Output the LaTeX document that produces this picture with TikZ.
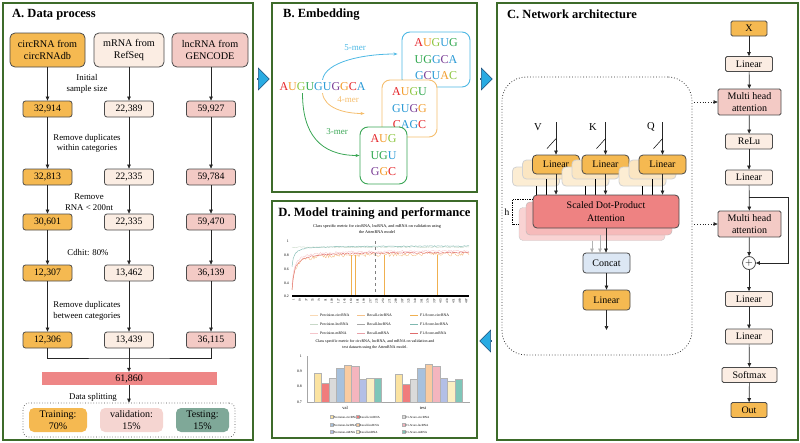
\documentclass[tikz,border=0pt]{standalone}
\usepackage{fontspec}
\setmainfont{Liberation Serif}
\usepackage{tikz}
\usetikzlibrary{arrows.meta, backgrounds, shapes.arrows}
\usepackage{xcolor}
\definecolor{panel_green}{HTML}{3D6B2A}
\definecolor{circ_orange}{HTML}{F5B951}
\definecolor{mrna_beige}{HTML}{FBEDE3}
\definecolor{lnc_pink}{HTML}{F3CAC5}
\definecolor{total_red}{HTML}{EE8686}
\definecolor{test_teal}{HTML}{7FA898}
\definecolor{att_red}{HTML}{EE8282}
\definecolor{concat_blue}{HTML}{DCE7F4}
\definecolor{edge_gray}{HTML}{4A4A4A}
\definecolor{arrow_fill}{HTML}{29ABE2}
\definecolor{arrow_edge}{HTML}{1F4E79}
\definecolor{nt_red}{HTML}{E5252A}
\definecolor{nt_orange}{HTML}{F39C2B}
\definecolor{nt_lime}{HTML}{8CC63F}
\definecolor{nt_green}{HTML}{2FA84F}
\definecolor{nt_blue}{HTML}{2A9AD6}
\definecolor{nt_purple}{HTML}{7A3E96}
\definecolor{kmer_blue}{HTML}{4DB8E4}
\definecolor{kmer_orange}{HTML}{F5BE6E}
\definecolor{kmer_green}{HTML}{3AA655}
\definecolor{lcPcircRNA}{HTML}{F9D9B5}
\definecolor{lcRcircRNA}{HTML}{F5C28A}
\definecolor{lcFcircRNA}{HTML}{F0B050}
\definecolor{lcPlncRNA}{HTML}{C8D8C8}
\definecolor{lcRlncRNA}{HTML}{A6A6A6}
\definecolor{lcFlncRNA}{HTML}{7FB8B0}
\definecolor{lcPmRNA}{HTML}{F5C6CB}
\definecolor{lcRmRNA}{HTML}{E8A0A8}
\definecolor{lcFmRNA}{HTML}{E06C6C}
\definecolor{bcPcircRNA}{HTML}{FBE3A1}
\definecolor{bcRcircRNA}{HTML}{F07C7C}
\definecolor{bcFcircRNA}{HTML}{DADADA}
\definecolor{bcPlncRNA}{HTML}{A7C1DD}
\definecolor{bcRlncRNA}{HTML}{F9CBA0}
\definecolor{bcFlncRNA}{HTML}{F4B5BE}
\definecolor{bcPmRNA}{HTML}{B3BFE6}
\definecolor{bcRmRNA}{HTML}{FCEFC3}
\definecolor{bcFmRNA}{HTML}{7FC6B9}
\newcommand{\ntR}[1]{\textcolor{nt_red}{#1}}
\newcommand{\ntO}[1]{\textcolor{nt_orange}{#1}}
\newcommand{\ntL}[1]{\textcolor{nt_lime}{#1}}
\newcommand{\ntG}[1]{\textcolor{nt_green}{#1}}
\newcommand{\ntB}[1]{\textcolor{nt_blue}{#1}}
\newcommand{\ntP}[1]{\textcolor{nt_purple}{#1}}

\begin{document}
\begin{tikzpicture}[
    x=1pt, y=-1pt,
    panel/.style={draw=panel_green, line width=1.2pt},
    ttl/.style={font=\fontsize{12.5}{14}\selectfont\bfseries, anchor=west, inner sep=0pt},
    flow/.style={-{Triangle[length=4pt,width=3.6pt]}, line width=0.7pt, draw=black!85},
    headbox/.style={draw=edge_gray, line width=0.8pt, rounded corners=5pt, minimum height=34pt, align=center, font=\fontsize{10.2}{12.5}\selectfont, inner sep=1pt},
    numbox/.style={draw=edge_gray, line width=0.8pt, rounded corners=2.5pt, minimum width=49pt, minimum height=16pt, font=\fontsize{9.8}{11}\selectfont, inner sep=0pt},
    steplbl/.style={align=center, font=\fontsize{8.8}{10.5}\selectfont, inner sep=0pt},
    splitbox/.style={rounded corners=5pt, minimum height=24pt, align=center, font=\fontsize{10}{11.5}\selectfont, inner sep=0pt},
    archbox/.style={draw=edge_gray, line width=0.8pt, rounded corners=1.5pt, minimum width=47pt, minimum height=15pt, font=\fontsize{10}{11}\selectfont, inner sep=0pt, align=center},
    shadowlin/.style={archbox, rounded corners=4pt, minimum height=19pt, fill=circ_orange!35, draw=edge_gray!25},
    kmerbox/.style={draw, line width=0.9pt, rounded corners=8pt, fill=white, align=center, font=\fontsize{12}{16.5}\selectfont, inner sep=0pt},
    kmerlbl/.style={font=\fontsize{9}{10}\selectfont, inner sep=0pt},
    tiny/.style={font=\fontsize{3.8}{4.4}\selectfont, inner sep=0pt},
    bigarrow/.style={single arrow, draw=arrow_edge, fill=arrow_fill, line width=0.6pt, minimum height=12pt, minimum width=22pt, single arrow head extend=5pt, inner sep=0pt}
]
\useasboundingbox (0,0) rectangle (800,442);

\draw[panel] (3,3) rectangle (253,440);
\draw[panel] (272,3) rectangle (477,192);
\draw[panel] (272,201) rectangle (477,438);
\draw[panel] (497,3) rectangle (798,440);

\node[bigarrow] (arrAB) at (263,79) {};
\node[bigarrow] (arrBC) at (486,79) {};
\node[bigarrow, shape border rotate=180] (arrCD) at (486,341) {};

% A. Data process
\node[ttl] (titleA) at (12,15) {A. Data process};
\node[headbox, fill=circ_orange, minimum width=75pt] (circ) at (47.5,50) {circRNA from\\circRNAdb};
\node[headbox, fill=mrna_beige, minimum width=70pt] (mrna) at (129,50) {mRNA from\\RefSeq};
\node[headbox, fill=lnc_pink, minimum width=76pt] (lnc) at (210,50) {lncRNA from\\GENCODE};

\foreach \r/\y/\a/\b/\c in {1/109/{32,914}/{22,389}/{59,927}, 2/177/{32,813}/{22,335}/{59,784},
    3/222/{30,601}/{22,335}/{59,470}, 4/273/{12,307}/{13,462}/{36,139}, 5/340/{12,306}/{13,439}/{36,115}} {
    \node[numbox, fill=circ_orange] (c\r) at (47.5,\y) {\a};
    \node[numbox, fill=mrna_beige] (m\r) at (129,\y) {\b};
    \node[numbox, fill=lnc_pink] (l\r) at (211,\y) {\c};
}
\foreach \k/\h in {c/circ, m/mrna, l/lnc}
    \draw[flow] (\k1.north |- \h.south) -- (\k1);
\foreach \a/\b in {1/2, 2/3, 3/4, 4/5}
    \foreach \k in {c, m, l}
        \draw[flow] (\k\a) -- (\k\b);

\node[steplbl] (lblInit) at (87,84) {Initial\\sample size};
\node[steplbl] (lblWithin) at (87,143.5) {Remove duplicates\\within categories};
\node[steplbl] (lblShort) at (89,202) {Remove\\RNA < 200nt};
\node[steplbl] (lblCdhit) at (88,253) {Cdhit: 80\%};
\node[steplbl] (lblBetween) at (87,311) {Remove duplicates\\between categories};

\node[fill=total_red, minimum width=175pt, minimum height=13pt, inner sep=0pt, font=\fontsize{10}{11}\selectfont] (total) at (129,378.5) {61,860};
\coordinate (merge) at (129,358);
\draw[line width=0.7pt, draw=black!85] (c5) |- (merge) -| (l5);
\draw[flow] (m5) -- (total);

\node[draw=black!70, dotted, line width=0.7pt, rounded corners=6pt, minimum width=212pt, minimum height=34pt] (split) at (129,420) {};
\node[steplbl] (lblSplit) at (93,397) {Data splitting};
\draw[flow] (total) -- (split);
\node[splitbox, fill=circ_orange, minimum width=58pt] (train) at (58,420) {Training:\\70\%};
\node[splitbox, fill=lnc_pink!80, minimum width=63pt] (valid) at (131.5,420) {validation:\\15\%};
\node[splitbox, fill=test_teal, minimum width=53pt] (test) at (202.5,420) {Testing:\\15\%};

% B. Embedding
\node[ttl] (titleB) at (283,15) {B. Embedding};
\node[font=\fontsize{12}{14}\selectfont, inner sep=1pt] (seq) at (322.5,87)
    {\ntR{A}\ntO{U}\ntL{G}\ntG{U}\ntB{G}\ntB{U}\ntP{G}\ntO{G}\ntR{C}\ntB{A}};
\node[kmerbox, draw=kmer_blue, minimum width=68pt, minimum height=55pt] (five) at (436,59.5)
    {\ntR{A}\ntO{U}\ntL{G}\ntB{U}\ntG{G}\\\ntG{U}\ntG{G}\ntB{G}\ntP{C}\ntB{A}\\\ntB{G}\ntP{C}\ntB{U}\ntO{A}\ntL{C}};
\node[kmerbox, draw=kmer_orange, minimum width=55pt, minimum height=57pt] (four) at (409.5,108.5)
    {\ntR{A}\ntO{U}\ntL{G}\ntG{U}\\\ntB{G}\ntB{U}\ntP{G}\ntO{G}\\\ntR{C}\ntB{A}\ntB{G}\ntR{C}};
\node[kmerbox, draw=kmer_green, minimum width=47pt, minimum height=57pt] (three) at (383.5,155.5)
    {\ntR{A}\ntO{U}\ntL{G}\\\ntG{U}\ntG{G}\ntB{U}\\\ntP{G}\ntO{G}\ntR{C}};
\draw[kmer_blue, line width=0.8pt, -{Stealth[length=4pt]}] ([yshift=2pt]seq.north) .. controls +(3,-18) and +(-35,0) .. ([yshift=5.5pt, xshift=-4pt]five.west);
\draw[kmer_orange, line width=0.8pt, -{Stealth[length=4pt]}] ([yshift=-1pt]seq.south) .. controls +(2,15) and +(-20,0) .. ([xshift=-17pt, yshift=-5pt]four.west);
\draw[kmer_green, line width=0.8pt, -{Stealth[length=4pt]}] ([xshift=-20pt, yshift=-1pt]seq.south) .. controls +(0,40) and +(-40,0) .. (three.west);
\node[kmerlbl, text=kmer_blue] (lbl5) at (355,48) {5-mer};
\node[kmerlbl, text=kmer_orange] (lbl4) at (348,100) {4-mer};
\node[kmerlbl, text=kmer_green] (lbl3) at (337,132) {3-mer};

% D. Model training and performance
\node[ttl, anchor=center, font=\fontsize{12.6}{14}\selectfont\bfseries] (titleD) at (374.5,213) {D. Model training and performance};
\node[tiny, align=center, font=\fontsize{4.2}{6}\selectfont] (chartA) at (377,229) {Class specific metric for circRNA, lncRNA, and mRNA on validation using\\the AttenRNA model};
\foreach \v/\y in {1/241, 0.8/255, 0.6/269, 0.4/283, 0.2/296}
    \node[tiny, anchor=east] (ya\y) at (289,\y) {\v};
\pgfmathsetseed{11}
\draw[lcPlncRNA, line width=0.4pt] plot[domain=292:469, samples=150] (\x, {296-(0.91+0.008*rand-0.2)*68.75});
\draw[lcFlncRNA, line width=0.45pt] plot[domain=292:469, samples=150] (\x, {296-(0.93-0.3/(1+(\x-292)/2)+0.006*rand-0.2)*68.75});
\draw[lcRcircRNA, line width=0.4pt] plot[domain=292:469, samples=170] (\x, {296-(0.82-0.55/(1+(\x-292)/2.5)+0.03*rand-0.2)*68.75});
\draw[lcPmRNA, line width=0.4pt] plot[domain=292:469, samples=150] (\x, {296-(0.86-0.5/(1+(\x-292)/2.5)+0.015*rand-0.2)*68.75});
\draw[lcFmRNA, line width=0.45pt] plot[domain=292:469, samples=150] (\x, {296-(0.84-0.55/(1+(\x-292)/2.5)+0.01*rand-0.2)*68.75});
\foreach \s in {351, 355, 384, 437}
    \draw[lcFcircRNA, line width=0.6pt] (\s,255) -- (\s,296);
\draw[gray, dashed, line width=0.4pt] (375,241) -- (375,296);
\draw[black, line width=1.6pt] (292,296) -- (469,296);
\foreach \i in {0,...,27} {
    \pgfmathtruncatemacro\lab{1+18*\i}
    \node[tiny, rotate=90, anchor=east, font=\fontsize{3.2}{4}\selectfont] (xt\i) at ({293.5+6.4*\i},298.5) {\lab};
}
\foreach \row/\ry in {circRNA/315, lncRNA/324, mRNA/333}
    \foreach \m/\mt/\mx in {P/Precision/310, R/Recall/357, F/F1-Score/410} {
        \draw[lc\m\row, line width=0.7pt] (\mx,\ry) -- ++(8,0);
        \node[tiny, anchor=west] (leg\m\row) at (\mx+10,\ry) {\mt-\row};
    }
\node[tiny, align=center, font=\fontsize{4}{6}\selectfont] (chartB) at (375,345) {Class specific metric for circRNA, lncRNA, and mRNA on validation and\\test datasets using the AttenRNA model.};
\foreach \v/\y in {1/356, 0.9/371.3, 0.8/386.7, 0.7/402}
    \node[tiny, anchor=east] (yb\y) at (302,\y) {\v};
\draw[gray!70, line width=0.3pt] (307,356) -- (307,402) -- (470,402);
\foreach \v/\c [count=\i from 0] in {0.888/PcircRNA, 0.823/RcircRNA, 0.855/FcircRNA, 0.920/PlncRNA, 0.944/RlncRNA, 0.933/FlncRNA, 0.849/PmRNA, 0.855/RmRNA, 0.855/FmRNA}
    \filldraw[fill=bc\c, draw=gray!60, line width=0.2pt] ({314+7.5*\i},402) rectangle ({321.5+7.5*\i},{402-(\v-0.7)*153.3});
\foreach \v/\c [count=\i from 0] in {0.884/PcircRNA, 0.819/RcircRNA, 0.849/FcircRNA, 0.920/PlncRNA, 0.946/RlncRNA, 0.933/FlncRNA, 0.855/PmRNA, 0.834/RmRNA, 0.849/FmRNA}
    \filldraw[fill=bc\c, draw=gray!60, line width=0.2pt] ({395+7.5*\i},402) rectangle ({402.5+7.5*\i},{402-(\v-0.7)*153.3});
\node[tiny, font=\fontsize{4.5}{5}\selectfont] (valLbl) at (345,408) {val};
\node[tiny, font=\fontsize{4.5}{5}\selectfont] (testLbl) at (423,408) {test};
\foreach \row/\ry in {circRNA/417, lncRNA/425, mRNA/432}
    \foreach \m/\mt/\mx in {P/Precision/330, R/Recall/356, F/F1-Score/402} {
        \filldraw[fill=bc\m\row, draw=gray!60, line width=0.2pt] (\mx,\ry-1.5) rectangle ++(3,3);
        \node[tiny, anchor=west, font=\fontsize{3.1}{4}\selectfont] (bleg\m\row) at (\mx+3.5,\ry) {\mt-\row};
    }

% C. Network architecture
\node[ttl] (titleC) at (507,14) {C. Network architecture};
\node[archbox, fill=circ_orange, minimum width=36pt] (xin) at (749,28.5) {X};
\node[archbox, fill=mrna_beige] (lin1) at (749,64) {Linear};
\node[archbox, fill=lnc_pink, minimum width=63pt, minimum height=26pt, font=\fontsize{10}{12}\selectfont] (mha1) at (749.5,102) {Multi head\\attention};
\node[archbox, fill=mrna_beige] (relu) at (749,141.5) {ReLu};
\node[archbox, fill=mrna_beige] (lin2) at (749,177.5) {Linear};
\node[archbox, fill=lnc_pink, minimum width=63pt, minimum height=26pt, font=\fontsize{10}{12}\selectfont] (mha2) at (749.5,224) {Multi head\\attention};
\node[draw=edge_gray, circle, line width=0.8pt, minimum size=13pt, inner sep=0pt, fill=white, font=\fontsize{10}{10}\selectfont] (plus) at (749,263) {$+$};
\node[archbox, fill=mrna_beige] (lin3) at (749,299) {Linear};
\node[archbox, fill=mrna_beige] (lin4) at (749,336.5) {Linear};
\node[archbox, fill=mrna_beige, minimum width=55pt] (soft) at (749.5,375) {Softmax};
\node[archbox, fill=circ_orange, minimum width=36pt] (out) at (749,410) {Out};
\foreach \a/\b in {xin/lin1, lin1/mha1, mha1/relu, relu/lin2, lin2/mha2, mha2/plus, plus/lin3, lin3/lin4, lin4/soft, soft/out}
    \draw[flow] (\a) -- (\b);
\coordinate (skip) at (749,197);
\draw[flow] (skip) -- ++(39,0) |- (plus);

\node[draw=black!80, dotted, line width=0.8pt, rounded corners=24pt, minimum width=190pt, minimum height=278pt] (mhabox) at (597,216) {};
\draw[flow, dotted] ([xshift=2pt]mhabox.east |- mha1) -- (mha1);
\draw[flow, dotted] ([xshift=2pt]mhabox.east |- mha2) -- (mha2);

\foreach \n/\t/\cx/\lx in {v/V/556/538, k/K/605.5/593, q/Q/662.5/651} {
    \node[shadowlin, fill=circ_orange!25] (l\n3) at (\cx-20,176.5) {};
    \node[shadowlin] (l\n2) at (\cx-10,169.5) {};
    \node[archbox, fill=circ_orange, rounded corners=4pt, minimum height=19pt] (l\n) at (\cx,164.5) {Linear};
    \node[font=\fontsize{10.5}{12}\selectfont, inner sep=0pt] (in\n) at (\lx,127) {\t};
    \coordinate (top\n) at (\cx,122);
    \draw[flow] (top\n) -- (l\n);
    \draw[line width=0.5pt] ([yshift=16pt]l\n.north) -- ++(-9,10);
}
\node[draw=edge_gray!30, fill=att_red!35, rounded corners=4pt, minimum width=146pt, minimum height=33pt] (att3) at (592,224) {};
\node[draw=edge_gray!40, fill=att_red!55, rounded corners=4pt, minimum width=146pt, minimum height=33pt] (att2) at (599,218.5) {};
\foreach \n in {v, k, q} {
    \draw[line width=0.7pt] (l\n3.south) -- (l\n3.south |- 0,195);
    \draw[line width=0.7pt] (l\n2.south) -- (l\n2.south |- 0,195);
}
\node[draw=edge_gray, line width=0.8pt, fill=att_red, rounded corners=4pt, minimum width=146pt, minimum height=33pt, align=center, font=\fontsize{10}{12.5}\selectfont] (att) at (606,211.5) {Scaled Dot-Product\\Attention};
\foreach \n in {v, k, q}
    \draw[flow] (l\n) -- (l\n |- att.north);
\node[inner sep=0pt, font=\fontsize{9.5}{11}\selectfont] (hlbl) at (507,212) {h};
\draw[densely dotted, line width=0.7pt] ([yshift=-5pt]att.north west) -- ++(-20,0) |- (att3.west);

\node[archbox, fill=concat_blue, rounded corners=3pt, minimum height=20pt] (concat) at (606.5,263) {Concat};
\node[archbox, fill=circ_orange, rounded corners=3pt, minimum height=20pt] (lin5) at (606.5,300) {Linear};
\draw[flow] (att) -- (att |- concat.north);
\draw[flow, draw=gray!60] (att2.south -| 600,0) -- (concat.north -| 600,0);
\draw[flow, draw=gray!60] (att3.south -| 592,0) -- (concat.north -| 592,0);
\draw[flow] (concat) -- (lin5);
\coordinate (mhaout) at (606.5,330);
\draw[flow] (lin5) -- (mhaout);
\end{tikzpicture}
\end{document}
